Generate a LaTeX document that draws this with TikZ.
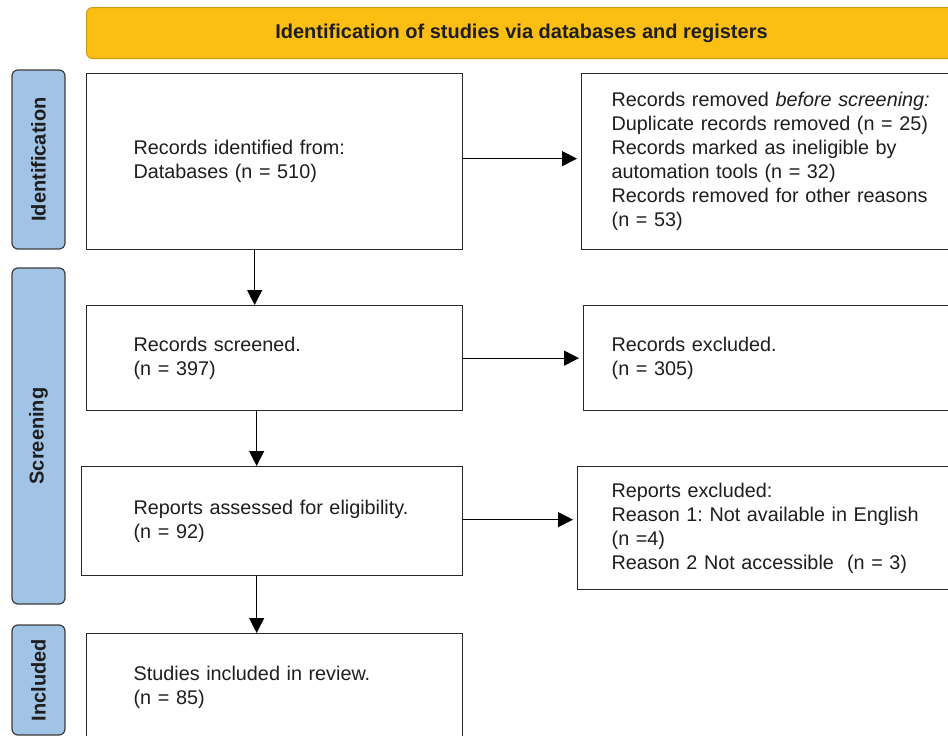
\documentclass[tikz,border=0pt]{standalone}
\usepackage{fontspec}
\setmainfont{Liberation Sans}
\usetikzlibrary{arrows.meta}
\frenchspacing
\definecolor{bannerfill}{RGB}{251,191,20}
\definecolor{bannerline}{RGB}{205,155,25}
\definecolor{sidefill}{RGB}{160,195,230}
\definecolor{sideline}{RGB}{60,60,60}
\definecolor{boxline}{RGB}{40,40,40}
\definecolor{txt}{RGB}{30,30,30}
\begin{document}
\begin{tikzpicture}[x=1pt,y=-1pt,
  box/.style={draw=boxline, line width=1.3pt, align=left, anchor=north west,
    inner ysep=0pt, text=txt, font=\fontsize{19.8}{24}\selectfont},
  side/.style={draw=sideline, fill=sidefill, line width=1.2pt, rounded corners=6pt,
    rotate=90, minimum height=53pt, inner sep=0pt, text=txt,
    font=\bfseries\fontsize{20}{24}\selectfont},
  arr/.style={draw=black, line width=1.2pt, -{Triangle[length=15pt,width=15pt]}},
  harr/.style={arr, shorten >=4pt}]
\useasboundingbox (0,0) rectangle (948,736);
\clip (0,0) rectangle (948,736);
\fill[white] (0,0) rectangle (948,736);

% banner
\node[draw=bannerline, fill=bannerfill, line width=1pt, rounded corners=6pt, anchor=north west,
  minimum width=870pt, minimum height=51pt, inner sep=0pt, text=txt,
  font=\bfseries\fontsize{20}{24}\selectfont] (T) at (86,7)
  {Identification of studies via databases and registers};

% side labels
\node[side, minimum width=179pt] (SI) at (38.5,159.5) {Identification};
\node[side, minimum width=336pt] (SS) at (38.5,436) {Screening};
\node[side, minimum width=110pt] (SN) at (38.5,680) {Included};

% boxes
\node[box, inner xsep=47pt, text width=282pt, minimum height=176pt] (B1) at (86,73)
  {Records identified from:\\Databases (n = 510)};
\node[box, inner xsep=30pt, text width=334pt, minimum height=176pt] (B2) at (581,73)
  {Records removed \textit{before screening:}\\Duplicate records removed (n = 25)\\Records marked as ineligible by\\automation tools (n = 32)\\Records removed for other reasons\\(n = 53)};
\node[box, inner xsep=47pt, text width=282pt, minimum height=105pt] (B3) at (86,305)
  {Records screened.\\(n = 397)};
\node[box, inner xsep=28pt, text width=336pt, minimum height=105pt] (B4) at (583,305)
  {Records excluded.\\(n = 305)};
\node[box, inner xsep=52pt, text width=277pt, minimum height=109pt] (B5) at (81,466)
  {\mbox{Reports assessed for eligibility.}\\(n = 92)};
\node[box, inner xsep=34pt, text width=330pt, minimum height=123pt] (B6) at (577,466)
  {Reports excluded:\\Reason 1: Not available in English\\(n =4)\\Reason 2 Not accessible\ \ (n = 3)};
\node[box, inner xsep=47pt, text width=282pt, minimum height=108pt] (B7) at (86,633)
  {Studies included in review.\\(n = 85)};

% arrows
\draw[harr] ([yshift=3pt]B1.east) -- ([yshift=3pt]B1.east -| B2.west);
\draw[harr] (B3.east) -- (B3.east -| B4.west);
\draw[harr] ([yshift=1.5pt]B5.east) -- ([yshift=1.5pt]B5.east -| B6.west);
\draw[arr] ([xshift=-20pt]B1.south) -- ([xshift=-20pt]B3.north);
\draw[arr] ([xshift=-18pt]B3.south) -- ([xshift=-18pt]B3.south |- B5.north);
\draw[arr] ([xshift=-15.5pt]B5.south) -- ([xshift=-15.5pt]B5.south |- B7.north);
\end{tikzpicture}
\end{document}
